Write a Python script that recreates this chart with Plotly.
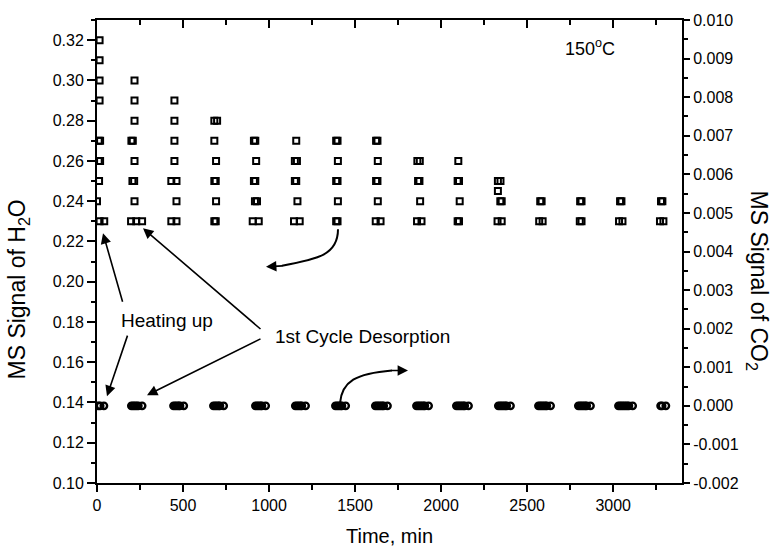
import plotly.graph_objects as go

# ---------------- data ----------------
# H2O MS signal (left axis), open squares
h2o_time = [
    15, 15, 15, 15, 10, 18, 10, 18, 12, 0, 15, 42,
    218, 218, 218, 200, 208, 218, 206, 216, 218, 198, 228, 262,
    450, 450, 450, 450, 432, 462, 462, 432, 462,
    682, 698, 682, 692, 682, 690, 692, 682, 690,
    912, 920, 925, 912, 920, 918, 930, 905, 940,
    1158, 1150, 1162, 1150, 1158, 1165, 1145, 1178,
    1390, 1398, 1400, 1390, 1398, 1400, 1390, 1398,
    1622, 1630, 1632, 1622, 1630, 1632, 1620, 1648,
    1862, 1876, 1866, 1874, 1878, 1860, 1886,
    2100, 2096, 2104, 2108, 2096, 2104,
    2330, 2345, 2330, 2344, 2352, 2328, 2352,
    2576, 2584, 2570, 2590,
    2808, 2816, 2806, 2816,
    3040, 3048, 3034, 3054,
    3278, 3286, 3272, 3292,
]
h2o_signal = [
    0.32, 0.31, 0.30, 0.29, 0.27, 0.27, 0.26, 0.26, 0.25, 0.24, 0.23, 0.23,
    0.30, 0.29, 0.28, 0.27, 0.27, 0.26, 0.25, 0.25, 0.24, 0.23, 0.23, 0.23,
    0.29, 0.28, 0.27, 0.26, 0.25, 0.25, 0.24, 0.23, 0.23,
    0.28, 0.28, 0.27, 0.26, 0.25, 0.25, 0.24, 0.23, 0.23,
    0.27, 0.27, 0.26, 0.25, 0.25, 0.24, 0.24, 0.23, 0.23,
    0.27, 0.26, 0.26, 0.25, 0.25, 0.24, 0.23, 0.23,
    0.27, 0.27, 0.26, 0.25, 0.25, 0.24, 0.23, 0.23,
    0.27, 0.27, 0.26, 0.25, 0.25, 0.24, 0.23, 0.23,
    0.26, 0.26, 0.25, 0.25, 0.24, 0.23, 0.23,
    0.26, 0.25, 0.25, 0.24, 0.23, 0.23,
    0.25, 0.25, 0.245, 0.24, 0.24, 0.23, 0.23,
    0.24, 0.24, 0.23, 0.23,
    0.24, 0.24, 0.23, 0.23,
    0.24, 0.24, 0.23, 0.23,
    0.24, 0.24, 0.23, 0.23,
]

# CO2 MS signal (right axis), open circles (densely overlapping readings)
co2_time = [
    8, 18, 40,
    200, 210, 220, 230, 240, 262,
    445, 455, 465, 475, 482, 504,
    677, 687, 697, 707, 714, 736,
    921, 931, 941, 951, 958, 980,
    1153, 1163, 1173, 1183, 1190, 1212,
    1386, 1396, 1406, 1416, 1423, 1445,
    1618, 1628, 1638, 1648, 1658, 1666, 1688,
    1857, 1867, 1877, 1887, 1897, 1905, 1927,
    2089, 2099, 2109, 2119, 2129, 2137, 2159,
    2333, 2343, 2353, 2363, 2373, 2381, 2403,
    2566, 2576, 2586, 2596, 2606, 2614, 2636,
    2798, 2808, 2818, 2828, 2838, 2846, 2868,
    3031, 3041, 3051, 3061, 3071, 3081, 3091, 3113,
    3276, 3284, 3306,
]
co2_signal = [0.0] * len(co2_time)

time_ticks = [0, 500, 1000, 1500, 2000, 2500, 3000]
time_tick_labels = ["0", "500", "1000", "1500", "2000", "2500", "3000"]
h2o_ticks = [0.10, 0.12, 0.14, 0.16, 0.18, 0.20, 0.22, 0.24, 0.26, 0.28, 0.30, 0.32]
h2o_tick_labels = ["0.10", "0.12", "0.14", "0.16", "0.18", "0.20", "0.22",
                   "0.24", "0.26", "0.28", "0.30", "0.32"]
co2_ticks = [-0.002, -0.001, 0.0, 0.001, 0.002, 0.003, 0.004, 0.005,
             0.006, 0.007, 0.008, 0.009, 0.01]
co2_tick_labels = ["-0.002", "-0.001", "0.000", "0.001", "0.002", "0.003", "0.004",
                   "0.005", "0.006", "0.007", "0.008", "0.009", "0.010"]

# ---------------- layout helpers ----------------
W, H = 772, 554
L, R, T, B = 97, 90, 14, 71
PW, PH = W - L - R, H - T - B
FONT = "Liberation Sans, Arial, sans-serif"


def px(x):
    return (x - L) / PW


def py(y):
    return (H - B - y) / PH


fig = go.Figure()
fig.add_trace(go.Scatter(
    x=h2o_time, y=h2o_signal, mode="markers", xaxis="x", yaxis="y",
    marker=dict(symbol="square-open", size=6, color="black",
                line=dict(width=2, color="black")),
    showlegend=False))
fig.add_trace(go.Scatter(
    x=co2_time, y=co2_signal, mode="markers", xaxis="x2", yaxis="y2",
    marker=dict(symbol="circle-open", size=6.5, color="black",
                line=dict(width=2.4, color="black")),
    showlegend=False))

axis_common = dict(showgrid=False, zeroline=False, showline=True, linewidth=2,
                   linecolor="black", tickcolor="black", tickwidth=2,
                   tickfont=dict(family=FONT, size=16, color="black"))

fig.update_layout(
    width=W, height=H,
    margin=dict(l=L, r=R, t=T, b=B, pad=0),
    paper_bgcolor="white", plot_bgcolor="white",
    font=dict(family=FONT, color="black"),
    xaxis=dict(range=[0, 3400], tickmode="array", tickvals=time_ticks,
               ticktext=time_tick_labels, ticks="outside", ticklen=7,
               minor=dict(tickmode="linear", tick0=0, dtick=250, ticks="outside",
                          ticklen=5, tickwidth=2, tickcolor="black"),
               **axis_common),
    xaxis2=dict(range=[0, 3400], overlaying="x", side="top", anchor="y2",
                tickmode="linear", tick0=0, dtick=500, ticks="inside", ticklen=8,
                showticklabels=False,
                minor=dict(tickmode="linear", tick0=0, dtick=250, ticks="inside",
                           ticklen=5, tickwidth=2, tickcolor="black"),
                **axis_common),
    yaxis=dict(range=[0.10, 0.33], tickmode="array", tickvals=h2o_ticks,
               ticktext=h2o_tick_labels, ticks="outside", ticklen=8,
               minor=dict(tickmode="linear", tick0=0.10, dtick=0.01, ticks="outside",
                          ticklen=4, tickwidth=2, tickcolor="black"),
               **axis_common),
    yaxis2=dict(range=[-0.002, 0.01], overlaying="y", side="right", anchor="x2",
                tickmode="array", tickvals=co2_ticks, ticktext=co2_tick_labels,
                ticks="outside", ticklen=6,
                minor=dict(tickmode="linear", tick0=-0.002, dtick=0.0005,
                           ticks="outside", ticklen=4, tickwidth=2, tickcolor="black"),
                **axis_common),
)


# ---------------- text ----------------
def text(s, x, y, size, angle=0, xanchor="center"):
    fig.add_annotation(text=s, x=px(x), y=py(y), xref="paper", yref="paper",
                       showarrow=False, textangle=angle, xanchor=xanchor,
                       yanchor="middle",
                       font=dict(family=FONT, size=size, color="black"))


text("Time, min", 389, 537, 20)
text("MS Signal of H<sub>2</sub>O", 19, 287, 23, angle=-90)
text("MS Signal of CO<sub>2</sub>", 757, 278, 23, angle=90)
text("150<sup>o</sup>C", 590, 42, 18)
text("Heating up", 167, 318, 19)
text("1st Cycle Desorption", 273, 335, 19, xanchor="left")


# ---------------- arrows ----------------
def arrow(tip_x, tip_y, tail_x, tail_y):
    fig.add_annotation(x=px(tip_x), y=py(tip_y), xref="paper", yref="paper",
                       ax=tail_x - tip_x, ay=tail_y - tip_y, axref="pixel",
                       ayref="pixel", showarrow=True, arrowhead=2, arrowsize=1.3,
                       arrowwidth=1.6, arrowcolor="black", text="")


arrow(103, 230, 123, 300)
arrow(107, 395, 128, 333)
arrow(143, 225, 262, 327)
arrow(147, 394, 262, 337)


def curve(points):
    (x0, y0), (x1, y1), (x2, y2), (x3, y3) = points
    path = (f"M {px(x0)},{py(y0)} C {px(x1)},{py(y1)} {px(x2)},{py(y2)} "
            f"{px(x3)},{py(y3)}")
    fig.add_shape(type="path", path=path, xref="paper", yref="paper",
                  line=dict(color="black", width=2))


curve([(338, 226), (338, 252), (318, 256), (282, 263)])
arrow(266, 264, 284, 263)
curve([(340, 402), (342, 380), (356, 372), (392, 369)])
arrow(408, 369, 390, 369)

fig.write_html("out.html")
